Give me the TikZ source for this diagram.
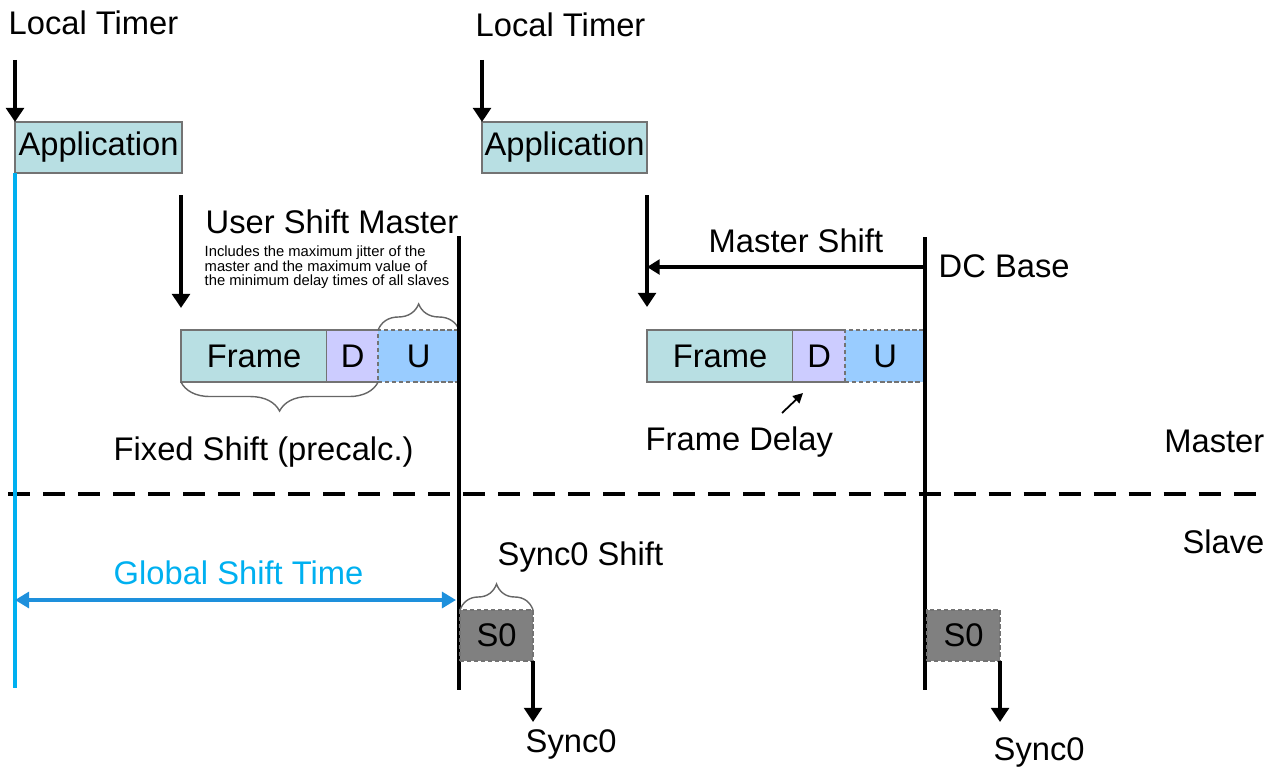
\documentclass[tikz,border=0pt]{standalone}
\usepackage{fontspec}
\setmainfont{Liberation Sans}
\usetikzlibrary{arrows.meta,positioning,decorations.pathreplacing}
\definecolor{appteal}{RGB}{184,223,227}
\definecolor{dlylav}{RGB}{204,204,255}
\definecolor{updblue}{RGB}{153,204,255}
\definecolor{syncgray}{RGB}{128,128,128}
\definecolor{gstcyan}{RGB}{0,176,240}
\definecolor{gstblue}{RGB}{30,144,220}

\begin{document}
\begin{tikzpicture}[x=0.01cm,y=-0.01cm,
    txt/.style={inner sep=0pt,font=\fontsize{9.3}{11}\selectfont},
    note/.style={inner sep=0pt,align=left,font=\fontsize{4.2}{4.15}\selectfont},
    appbox/.style={draw=black!55,fill=appteal,inner sep=0pt,outer sep=0pt,minimum width=1.67cm,minimum height=0.51cm,font=\fontsize{9.3}{11}\selectfont},
    cell/.style={inner sep=0pt,outer sep=0pt,minimum height=0.52cm,font=\fontsize{9.3}{11}\selectfont},
    fine/.style={dash pattern=on 1.2pt off 0.8pt},
    timer/.style={line width=1.1pt,-{Triangle[width=5pt,length=4pt]}},
    baseline/.style={line width=1.2pt},
    brc/.style={draw=black!60,line width=0.4pt,decorate},
  ]
  \useasboundingbox (0,0) rectangle (1277,767);

  % master / slave border
  \draw[line width=1.4pt,dash pattern=on 0.22cm off 0.13cm] (8,494) -- (1262,494);
  \node[txt,anchor=base east] (mst) at (1265,452) {Master};
  \node[txt,anchor=base east] (slv) at (1265,553) {Slave};

  % left cycle
  \node[txt,anchor=base west] (lt1) at (8,35) {Local Timer};
  \node[appbox,anchor=north west] (app1) at (15,122) {Application};
  \draw[timer] (app1.north west |- 0,60) -- (app1.north west);
  \draw[gstcyan,line width=1.3pt] (app1.south west) -- (app1.south west |- 0,688);

  \node[cell,draw=black!55,fill=appteal,minimum width=1.46cm,anchor=north west] (frm1) at (181,330) {Frame};
  \node[cell,fill=dlylav,minimum width=0.51cm,right=0pt of frm1] (dly1) {D};
  \node[cell,draw=black!55,fine,fill=updblue,minimum width=0.81cm,right=0pt of dly1] (upd1) {U};
  \draw[black!55] (dly1.north west) -- (dly1.north east) (dly1.south west) -- (dly1.south east);
  \draw[timer] (frm1.north west |- 0,195) -- (frm1.north west |- 0,308);

  \node[txt,anchor=base west] (usm) at (205,233) {User Shift Master};
  \node[note,anchor=north west] (usmnote) at (204,245) {Includes the maximum jitter of the\\master and the maximum value of\\the minimum delay times of all slaves};
  \draw[brc,decoration={brace,amplitude=0.26cm}] (upd1.north west) -- (upd1.north east);
  \draw[brc,decoration={brace,amplitude=0.29cm}] (dly1.south east) -- (frm1.south west);
  \node[txt,anchor=base west] (fxs) at (113,460) {Fixed Shift (precalc.)};

  \coordinate (tl1) at (459,236);
  \draw[baseline] (tl1) -- (tl1 |- 0,690);

  \node[txt,anchor=base west,text=gstcyan] (gst) at (113,584) {Global Shift Time};
  \draw[gstblue,line width=1pt,{Triangle[width=4.5pt,length=4pt]}-{Triangle[width=4.5pt,length=4pt]}] (app1.south west |- 0,600) -- (456,600);

  \node[cell,fill=syncgray,draw=black!55,fine,minimum width=0.73cm,minimum height=0.51cm,anchor=north west] (syn1) at (460,610) {S0};
  \draw[brc,decoration={brace,amplitude=0.26cm}] (syn1.north west) -- (syn1.north east);
  \node[txt,anchor=base west] (sys) at (497,565) {Sync0 Shift};
  \node[txt,anchor=base west] (sy1) at (525,752) {Sync0};
  \draw[timer] (syn1.south east) -- (syn1.south east |- 0,722);

  % right cycle
  \node[txt,anchor=base west] (lt2) at (475,37) {Local Timer};
  \node[appbox,anchor=north west,minimum width=1.65cm] (app2) at (482,122) {Application};
  \draw[timer] (app2.north west |- 0,60) -- (app2.north west);

  \node[cell,draw=black!55,fill=appteal,minimum width=1.46cm,anchor=north west] (frm2) at (647,330) {Frame};
  \node[cell,fill=dlylav,minimum width=0.52cm,right=0pt of frm2] (dly2) {D};
  \node[cell,draw=black!55,fine,fill=updblue,minimum width=0.80cm,right=0pt of dly2] (upd2) {U};
  \draw[black!55] (dly2.north west) -- (dly2.north east) (dly2.south west) -- (dly2.south east);
  \draw[timer] (frm2.north west |- 0,195) -- (frm2.north west |- 0,307);

  \coordinate (tl2) at (925,237);
  \draw[baseline] (tl2) -- (tl2 |- 0,690);
  \coordinate (dcb) at (925,267);
  \draw[line width=0.95pt,-{Triangle[width=4.2pt,length=3.6pt]}] (dcb) -- (frm2.north west |- dcb);
  \node[txt,anchor=base west] (msh) at (708,252) {Master Shift};
  \node[txt,anchor=base west] (dcbase) at (938,277) {DC Base};

  \node[txt,anchor=base west] (fdl) at (645,450) {Frame Delay};
  \coordinate (fdtail) at (782,413);
  \coordinate (fdhead) at (803,393);
  \draw[line width=0.5pt,-{Triangle[width=2.8pt,length=2.8pt]}] (fdtail) -- (fdhead);

  \node[cell,fill=syncgray,draw=black!55,fine,minimum width=0.73cm,minimum height=0.51cm,anchor=north west] (syn2) at (927,610) {S0};
  \draw[timer] (syn2.south east) -- (syn2.south east |- 0,722);
  \node[txt,anchor=base west] (sy2) at (993,760) {Sync0};
\end{tikzpicture}
\end{document}
